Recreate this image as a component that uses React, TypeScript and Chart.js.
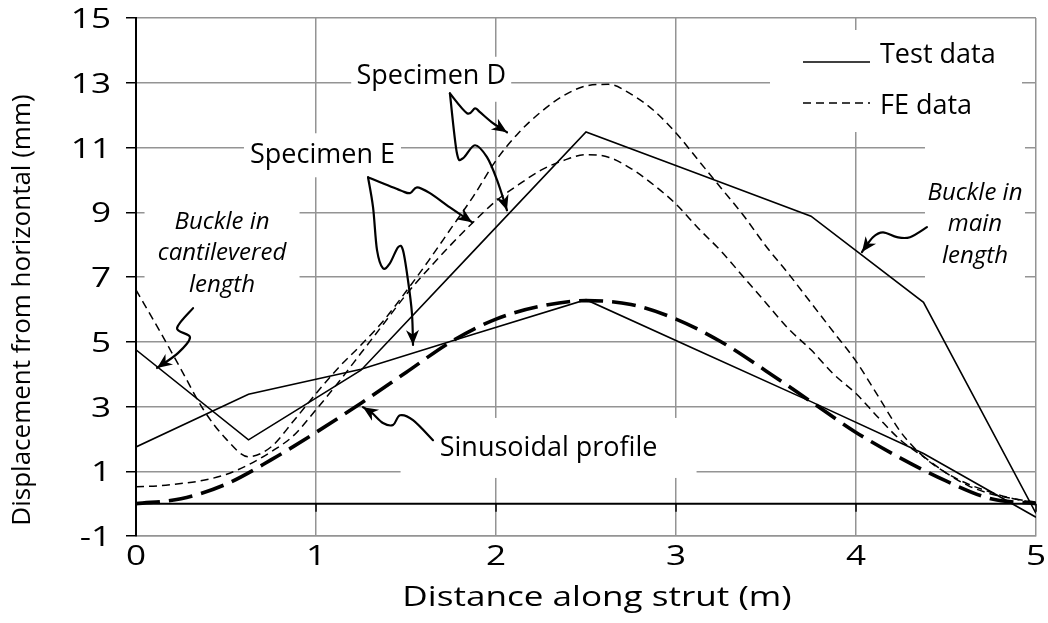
import React, { useEffect, useRef } from "react";
import { Chart, registerables } from "chart.js";

Chart.register(...registerables);

const FONT = "'Open Sans', 'DejaVu Sans', sans-serif";

// ---- axis ticks ----
const xTicks = [0, 1, 2, 3, 4, 5];
const yTicks = [-1, 1, 3, 5, 7, 9, 11, 13, 15];

// ---- test data (solid) ----
const testX = [0, 0.625, 1.25, 1.875, 2.5, 3.125, 3.75, 4.375, 5];
const testD = [4.75, 1.97, 4.12, 7.8, 11.48, 10.18, 8.88, 6.22, -0.3];
const testE = [1.75, 3.38, 4.15, 5.23, 6.3, 4.72, 3.15, 1.55, -0.42];

// ---- FE data (dashed) ----
const feX = [
  0, 0.125, 0.25, 0.375, 0.5, 0.625, 0.75, 0.875, 1, 1.125, 1.25, 1.375, 1.5, 1.625,
  1.75, 1.875, 2, 2.125, 2.25, 2.375, 2.5, 2.625, 2.75, 2.875, 3, 3.125, 3.25, 3.375,
  3.5, 3.625, 3.75, 3.875, 4, 4.125, 4.25, 4.375, 4.5, 4.625, 4.75, 4.875, 5,
];
const feD = [
  6.6, 5.4, 4.15, 2.9, 2.0, 1.45, 1.75, 2.55, 3.4, 4.2, 4.9, 5.65, 6.55, 7.5,
  8.5, 9.5, 10.6, 11.45, 12.1, 12.6, 12.9, 12.95, 12.65, 12.15, 11.45, 10.6, 9.75, 8.9,
  7.95, 7.1, 6.2, 5.3, 4.4, 3.3, 2.2, 1.45, 0.95, 0.6, 0.35, 0.15, 0.03,
];
const feE = [
  0.52, 0.55, 0.62, 0.72, 0.9, 1.2, 1.6, 2.1, 2.9, 3.75, 4.65, 5.55, 6.45, 7.25,
  8.0, 8.7, 9.35, 9.85, 10.3, 10.6, 10.78, 10.7, 10.35, 9.85, 9.25, 8.5, 7.8, 7.0,
  6.2, 5.4, 4.75, 4.0, 3.4, 2.65, 1.95, 1.45, 0.95, 0.55, 0.3, 0.15, 0.05,
];

// ---- sinusoidal profile (thick long dash) ----
const sineX = [0, 0.25, 0.5, 0.75, 1, 1.25, 1.5, 1.75, 2, 2.25, 2.5, 2.75, 3, 3.25, 3.5, 3.75, 4, 4.25, 4.5, 4.75, 5];
const sineY = [0, 0.15, 0.6, 1.35, 2.2, 3.1, 4.05, 5.0, 5.7, 6.1, 6.27, 6.15, 5.7, 5.0, 4.1, 3.15, 2.2, 1.4, 0.7, 0.15, 0];

// ---- legend ----
const legendLabels = ["Test data", "FE data"];
const legendDashes = [[], [8, 5]];

// ---- annotations (positions in data units, box sizes in px) ----
const annotations = [
  { lines: ["Specimen D"], x: 1.64, y: 13.2, italic: false, boxW: 160, boxH: 45, boxDy: 3 },
  { lines: ["Specimen E"], x: 1.036, y: 10.76, italic: false, boxW: 157, boxH: 44, boxDy: 0 },
  { lines: ["Sinusoidal profile"], x: 2.292, y: 1.72, italic: false, boxW: 296, boxH: 60, boxDy: 0 },
  { lines: ["Buckle in", "cantilevered", "length"], x: 0.478, y: 7.73, italic: true, boxW: 155, boxH: 112, boxDy: -3 },
  { lines: ["Buckle in", "main", "length"], x: 4.661, y: 8.63, italic: true, boxW: 100, boxH: 145, boxDy: -10 },
];

const arrows = [
  [[1.744, 12.67], [1.839, 12.06], [1.883, 12.21], [1.911, 12.09], [1.983, 11.75], [2.061, 11.47]],
  [[1.744, 12.67], [1.783, 10.82], [1.817, 10.67], [1.883, 11.07], [1.95, 10.7], [2.006, 9.99], [2.061, 9.06]],
  [[1.289, 10.08], [1.467, 9.68], [1.522, 9.59], [1.561, 9.77], [1.633, 9.59], [1.744, 9.15], [1.867, 8.69]],
  [[1.289, 10.08], [1.317, 9.15], [1.339, 7.83], [1.372, 7.27], [1.411, 7.43], [1.456, 7.92], [1.483, 7.83], [1.511, 6.9], [1.533, 5.88], [1.539, 4.9]],
  [[0.317, 6.04], [0.228, 5.42], [0.3, 5.14], [0.233, 4.65], [0.117, 4.19]],
  [[4.394, 8.54], [4.3, 8.23], [4.228, 8.23], [4.15, 8.38], [4.094, 8.23], [4.033, 7.77]],
  [[1.65, 1.96], [1.539, 2.58], [1.467, 2.73], [1.428, 2.43], [1.372, 2.49], [1.311, 2.8], [1.261, 2.98]],
];

const xTitle = "Distance along strut (m)";
const yTitle = "Displacement from horizontal (mm)";

const AXIS_STRETCH = 1.3;

const zip = (xs: number[], ys: number[]) => xs.map((x, i) => ({ x, y: ys[i] }));

function drawArrow(ctx: CanvasRenderingContext2D, pts: number[][]) {
  const n = pts.length;
  ctx.beginPath();
  ctx.moveTo(pts[0][0], pts[0][1]);
  let lastCp = pts[0];
  for (let i = 0; i < n - 1; i++) {
    const p0 = pts[Math.max(0, i - 1)];
    const p1 = pts[i];
    const p2 = pts[i + 1];
    const p3 = pts[Math.min(n - 1, i + 2)];
    const c1 = [p1[0] + (p2[0] - p0[0]) / 6, p1[1] + (p2[1] - p0[1]) / 6];
    const c2 = [p2[0] - (p3[0] - p1[0]) / 6, p2[1] - (p3[1] - p1[1]) / 6];
    ctx.bezierCurveTo(c1[0], c1[1], c2[0], c2[1], p2[0], p2[1]);
    lastCp = c2;
  }
  ctx.stroke();
  const tip = pts[n - 1];
  let dx = tip[0] - lastCp[0];
  let dy = tip[1] - lastCp[1];
  const len = Math.hypot(dx, dy) || 1;
  dx /= len;
  dy /= len;
  const L = 15, W = 6.5;
  const bx = tip[0] - dx * L, by = tip[1] - dy * L;
  const nx = -dy, ny = dx;
  ctx.beginPath();
  ctx.moveTo(tip[0], tip[1]);
  ctx.lineTo(bx + nx * W, by + ny * W);
  ctx.lineTo(tip[0] - dx * L * 0.7, tip[1] - dy * L * 0.7);
  ctx.lineTo(bx - nx * W, by - ny * W);
  ctx.closePath();
  ctx.fill();
}

function stretchedText(ctx: CanvasRenderingContext2D, text: string, x: number, y: number, align: CanvasTextAlign) {
  ctx.save();
  ctx.translate(x, y);
  ctx.scale(AXIS_STRETCH, 1);
  ctx.textAlign = align;
  ctx.fillText(text, 0, 0);
  ctx.restore();
}

const overlayPlugin = {
  id: "overlay",
  beforeDatasetsDraw(chart: any) {
    const ctx = chart.ctx as CanvasRenderingContext2D;
    const xs = chart.scales.x, ys = chart.scales.y;
    const ca = chart.chartArea;
    ctx.save();
    ctx.fillStyle = "#ffffff";
    for (const a of annotations) {
      const cx = xs.getPixelForValue(a.x);
      const cy = ys.getPixelForValue(a.y) + a.boxDy;
      ctx.fillRect(cx - a.boxW / 2, cy - a.boxH / 2, a.boxW, a.boxH);
    }
    // legend box
    ctx.fillRect(ca.right - 266, ca.top + 12, 252, 102);
    // horizontal zero line with ticks
    const y0 = ys.getPixelForValue(0);
    ctx.strokeStyle = "#000";
    ctx.lineWidth = 2;
    ctx.beginPath();
    ctx.moveTo(ca.left, y0);
    ctx.lineTo(ca.right, y0);
    ctx.stroke();
    ctx.lineWidth = 1.5;
    for (const t of xTicks) {
      const px = xs.getPixelForValue(t);
      ctx.beginPath();
      ctx.moveTo(px, y0);
      ctx.lineTo(px, y0 + 8);
      ctx.stroke();
    }
    ctx.restore();
  },
  afterDatasetsDraw(chart: any) {
    const ctx = chart.ctx as CanvasRenderingContext2D;
    const xs = chart.scales.x, ys = chart.scales.y;
    const ca = chart.chartArea;
    ctx.save();
    ctx.fillStyle = "#000";
    ctx.textAlign = "center";
    ctx.textBaseline = "middle";
    for (const a of annotations) {
      const cx = xs.getPixelForValue(a.x);
      const cy = ys.getPixelForValue(a.y);
      ctx.font = a.italic ? `italic 24px ${FONT}` : `27px ${FONT}`;
      const lh = 31.5;
      const n = a.lines.length;
      a.lines.forEach((ln, i) => {
        ctx.fillText(ln, cx, cy + (i - (n - 1) / 2) * lh);
      });
    }
    // arrows
    ctx.strokeStyle = "#000";
    ctx.fillStyle = "#000";
    ctx.lineWidth = 2.2;
    ctx.lineJoin = "round";
    ctx.lineCap = "round";
    for (const arr of arrows) {
      const pts = arr.map((p) => [xs.getPixelForValue(p[0]), ys.getPixelForValue(p[1])]);
      drawArrow(ctx, pts);
    }
    // legend entries
    const lx = ca.right - 266, ly = ca.top + 12;
    ctx.lineCap = "butt";
    ctx.lineWidth = 1.5;
    ctx.textAlign = "left";
    ctx.font = `27px ${FONT}`;
    const lineYs = [32, 73];
    const textYs = [25, 76];
    legendLabels.forEach((lab, i) => {
      ctx.setLineDash(legendDashes[i]);
      ctx.beginPath();
      ctx.moveTo(lx + 33, ly + lineYs[i]);
      ctx.lineTo(lx + 100, ly + lineYs[i]);
      ctx.stroke();
      ctx.setLineDash([]);
      ctx.fillText(lab, lx + 110, ly + textYs[i]);
    });
    // tick labels (stretched horizontally like the reference)
    ctx.font = `27px ${FONT}`;
    ctx.textBaseline = "alphabetic";
    for (const t of yTicks) {
      stretchedText(ctx, String(t), ca.left - 25, ys.getPixelForValue(t) + 10, "right");
    }
    for (const t of xTicks) {
      stretchedText(ctx, String(t), xs.getPixelForValue(t), ca.bottom + 29, "center");
    }
    // axis titles
    ctx.textBaseline = "middle";
    stretchedText(ctx, xTitle, (ca.left + ca.right) / 2 + 11, 598, "center");
    ctx.font = `26px ${FONT}`;
    ctx.translate(23, (ca.top + ca.bottom) / 2 + 33);
    ctx.rotate(-Math.PI / 2);
    ctx.textAlign = "center";
    ctx.fillText(yTitle, 0, 0);
    ctx.restore();
  },
};

export default function App() {
  const ref = useRef<HTMLCanvasElement>(null);
  useEffect(() => {
    if (!ref.current) return;
    const chart = new Chart(ref.current, {
      type: "scatter",
      data: {
        datasets: [
          { label: "Test D", data: zip(testX, testD), showLine: true, borderColor: "#000", borderWidth: 1.6, pointRadius: 0, tension: 0 },
          { label: "Test E", data: zip(testX, testE), showLine: true, borderColor: "#000", borderWidth: 1.6, pointRadius: 0, tension: 0 },
          { label: "FE D", data: zip(feX, feD), showLine: true, borderColor: "#000", borderWidth: 1.5, borderDash: [8, 5], pointRadius: 0, cubicInterpolationMode: "monotone" },
          { label: "FE E", data: zip(feX, feE), showLine: true, borderColor: "#000", borderWidth: 1.5, borderDash: [8, 5], pointRadius: 0, cubicInterpolationMode: "monotone" },
          { label: "Sinusoidal", data: zip(sineX, sineY), showLine: true, borderColor: "#000", borderWidth: 3.6, borderDash: [24, 9], pointRadius: 0, cubicInterpolationMode: "monotone" },
        ],
      },
      options: {
        animation: false,
        responsive: false,
        devicePixelRatio: 1,
        layout: { padding: { left: 0, top: 18, right: 12, bottom: 0 } },
        plugins: { legend: { display: false }, tooltip: { enabled: false } },
        scales: {
          x: {
            type: "linear",
            min: 0,
            max: 5,
            afterFit: (s: any) => { s.height = 87; },
            afterBuildTicks: (s: any) => { s.ticks = xTicks.map((v) => ({ value: v })); },
            grid: { color: "#949494", lineWidth: 1.5, drawTicks: false },
            border: { color: "#949494", width: 1.5 },
            ticks: { display: false },
          },
          y: {
            type: "linear",
            min: -1,
            max: 15,
            afterFit: (s: any) => { s.width = 136; },
            afterBuildTicks: (s: any) => { s.ticks = yTicks.map((v) => ({ value: v })); },
            grid: { color: "#949494", lineWidth: 1.5, drawTicks: true, tickLength: 10, tickColor: "#000", tickWidth: 1.5 },
            border: { color: "#000", width: 2 },
            ticks: { display: false },
          },
        },
      },
      plugins: [overlayPlugin],
    } as any);
    return () => chart.destroy();
  }, []);
  return (
    <div style={{ position: "absolute", left: 0, top: 0, width: 1048, height: 623, background: "#fff" }}>
      <canvas ref={ref} width={1048} height={623} style={{ display: "block" }} />
    </div>
  );
}
